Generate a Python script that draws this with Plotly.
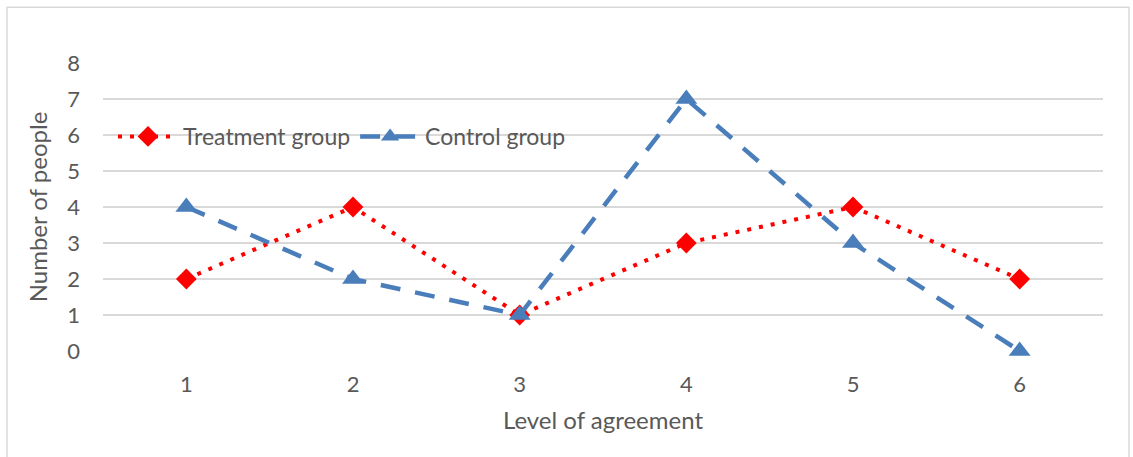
import plotly.graph_objects as go

categories = [1, 2, 3, 4, 5, 6]
treatment = [2, 4, 1, 3, 4, 2]
control = [4, 2, 1, 7, 3, 0]
y_ticks = [0, 1, 2, 3, 4, 5, 6, 7, 8]

FONT = "Lato, 'Open Sans', sans-serif"
GREY = "#595959"

fig = go.Figure()
fig.add_trace(go.Scatter(
    x=categories, y=treatment, name="Treatment group", mode="lines+markers",
    line=dict(color="#ff0000", width=4, dash="4px,8px"),
    marker=dict(symbol="diamond", size=16, color="#ff0000"),
    cliponaxis=False,
))
fig.add_trace(go.Scatter(
    x=categories, y=control, name="Control group", mode="lines+markers",
    line=dict(color="#4a7ebb", width=4.5, dash="20px,15px"),
    marker=dict(symbol="triangle-up", size=19, color="#4a7ebb"),
    cliponaxis=False,
))

fig.update_layout(
    width=1133, height=457,
    margin=dict(l=103, r=30, t=63, b=106),
    paper_bgcolor="white", plot_bgcolor="white",
    font=dict(family=FONT, color=GREY, size=22),
    showlegend=True,
    legend=dict(orientation="h", x=0.01, y=0.745, xanchor="left", yanchor="middle",
                bgcolor="rgba(0,0,0,0)", font=dict(size=23, color=GREY),
                itemwidth=60),
    xaxis=dict(range=[0.5, 6.5], tickvals=categories, ticktext=[str(c) for c in categories],
               showgrid=False, zeroline=False, showline=False, ticks="",
               ticklabelstandoff=18,
               title=dict(text="Level of agreement", standoff=16,
                          font=dict(size=24, color=GREY))),
    yaxis=dict(range=[0, 8], tickvals=y_ticks, showgrid=True, gridcolor="#d9d9d9",
               gridwidth=1.5, zeroline=False, showline=False, ticks="", ticklen=0,
               ticklabelstandoff=22,
               title=dict(text="Number of people", standoff=12,
                          font=dict(size=24, color=GREY))),
    shapes=[dict(type="rect", xref="paper", yref="paper",
                 x0=-0.096, x1=1.026, y0=-0.5, y1=1.194,
                 line=dict(color="#d9d9d9", width=1.5), fillcolor="rgba(0,0,0,0)",
                 layer="below")],
)

fig.write_html("out.html", config={"displayModeBar": False},
               post_script="document.body.style.margin='0';document.body.style.overflow='hidden';")
